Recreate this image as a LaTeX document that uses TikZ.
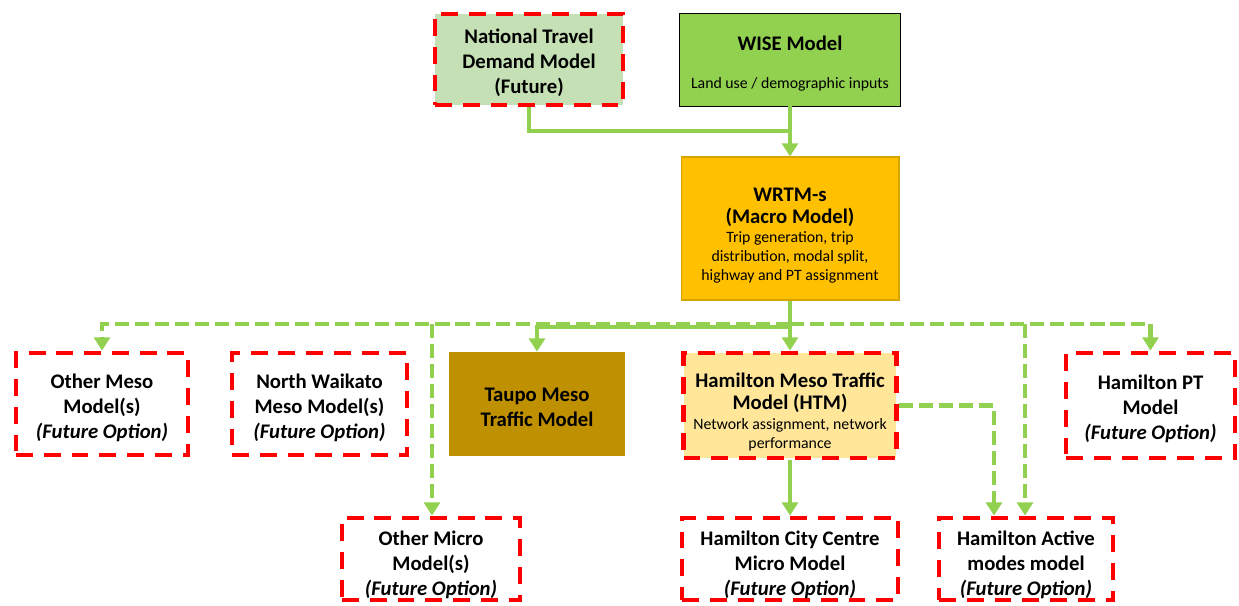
\documentclass[tikz,border=0pt]{standalone}
\usepackage{fontspec}
\setmainfont{Carlito}
\usepackage{xcolor}
\usepackage{tikz}
\usetikzlibrary{arrows.meta,positioning}
\definecolor{LinkGreen} {HTML}{92D050}
\definecolor{FutureRed} {HTML}{FF0000}
\definecolor{PaleGreen} {HTML}{C5E0B4}
\definecolor{MacroGold} {HTML}{FFC000}
\definecolor{MacroEdge} {HTML}{D9A300}
\definecolor{TaupoGold} {HTML}{BF9000}
\definecolor{HtmCream}  {HTML}{FFE699}
\newcommand{\modeltitle}{\fontsize{11.8}{14.2}\selectfont\bfseries}
\newcommand{\modelnote}{\fontsize{9}{10.8}\selectfont\mdseries}
\newcommand{\toplift}[1]{\rule{0pt}{#1}}

\begin{document}
\begin{tikzpicture}[x=0.02cm,y=-0.02cm,
    model/.style={inner sep=0pt,align=center,font=\modeltitle},
    future/.style={model,draw=FutureRed,line width=2.8pt,dash pattern=on 9.6pt off 6.2pt},
    link/.style={draw=LinkGreen,line width=2.8pt,-{Triangle[width=9pt,length=7.5pt]}},
    optlink/.style={link,line width=2.5pt,dash pattern=on 8pt off 3.4pt}]
    \useasboundingbox (0,0) rectangle (1239,605);

    % top row
    \node[future,fill=PaleGreen,minimum width=3.76cm,minimum height=1.82cm] (ntdm) at (529,59.5)
      {\toplift{11.7pt}National Travel\\Demand Model\\(Future)};
    \node[model,fill=LinkGreen,draw=black,line width=0.5pt,minimum width=4.42cm,minimum height=1.86cm] (wise) at (790,59.5)
      {\toplift{12.9pt}WISE Model\\[7.3pt]{\modelnote Land use / demographic inputs}};
    \node[model,fill=MacroGold,draw=MacroEdge,line width=0.6pt,minimum width=4.36cm,minimum height=2.86cm] (wrtm) at (790,228.5)
      {\toplift{15.7pt}WRTM-s\\[-1.2pt](Macro Model)\\[-3.4pt]{\modelnote Trip generation, trip}\\[-3.4pt]{\modelnote distribution, modal split,}\\[-3.4pt]{\modelnote highway and PT assignment}};

    % meso row
    \node[future,minimum width=3.44cm,minimum height=2.04cm] (othermeso) at (102,404)
      {\toplift{12.9pt}Other Meso\\Model(s)\\\textit{(Future Option)}};
    \node[future,minimum width=3.50cm,minimum height=2.04cm] (nwaikato) at (319.5,404)
      {\toplift{12.9pt}North Waikato\\Meso Model(s)\\\textit{(Future Option)}};
    \node[model,fill=TaupoGold,minimum width=3.52cm,minimum height=2.08cm] (taupo) at (537,404)
      {\toplift{11.2pt}Taupo Meso\\Traffic Model};
    \node[future,fill=HtmCream,minimum width=4.26cm,minimum height=2.10cm] (htm) at (790,405.5)
      {\toplift{15.7pt}Hamilton Meso Traffic\\[-2pt]Model (HTM)\\[-3pt]{\modelnote Network assignment, network}\\[-3.4pt]{\modelnote performance}};
    \node[future,minimum width=3.38cm,minimum height=2.10cm] (hpt) at (1150.5,405.5)
      {\toplift{12.3pt}Hamilton PT\\Model\\\textit{(Future Option)}};

    % micro row
    \node[future,minimum width=3.56cm,minimum height=1.64cm] (othermicro) at (431,559)
      {\toplift{14.6pt}Other Micro\\Model(s)\\\textit{(Future Option)}};
    \node[future,minimum width=4.32cm,minimum height=1.64cm] (hcc) at (790,559)
      {\toplift{14.6pt}Hamilton City Centre\\Micro Model\\\textit{(Future Option)}};
    \node[future,minimum width=3.48cm,minimum height=1.64cm] (active) at (1026,559)
      {\toplift{14.6pt}Hamilton Active\\modes model\\\textit{(Future Option)}};

    % inputs to the macro model
    \coordinate (ntdmjoin) at (790,131);
    \draw[link,-] (ntdm.south) |- (ntdmjoin);
    \draw[link] (wise.south) -- (wrtm.north);

    % future options (dashed)
    \coordinate (optbus) at (790,324);
    \coordinate (microtap) at (432,324);
    \coordinate (activetap) at (1025,324);
    \draw[optlink] (optbus) -| (othermeso.north);
    \draw[optlink] (optbus) -| (hpt.north);
    \draw[optlink] (microtap) -- (microtap |- othermicro.north);
    \draw[optlink] (activetap) -- (activetap |- active.north);
    \draw[optlink] (htm.east) -| ([xshift=-0.64cm]active.north);

    % current model chain
    \coordinate (taupojoin) at (790,327);
    \draw[link] (taupojoin) -| (taupo.north);
    \draw[link] (wrtm.south) -- (htm.north);
    \draw[link] (htm.south) -- (hcc.north);
\end{tikzpicture}
\end{document}
